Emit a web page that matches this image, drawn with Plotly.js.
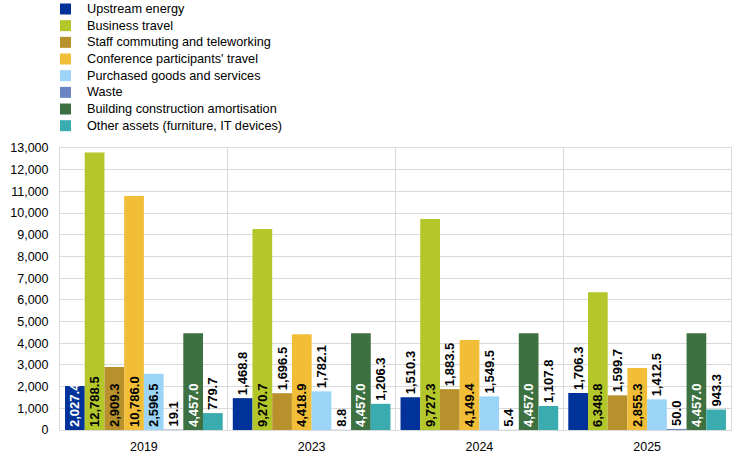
<!DOCTYPE html>
<html>
<head>
<meta charset="utf-8">
<script src="https://cdn.plot.ly/plotly-3.0.1.min.js"></script>
<style>
  html, body { margin: 0; padding: 0; background: #fff; }
  #chart { width: 744px; height: 456px; }
</style>
</head>
<body>
<div id="chart"></div>
<script>
// categories (years) and one array of values per emission source
const years = ["2019", "2023", "2024", "2025"];

const upstreamEnergy    = [2027.4, 1468.8, 1510.3, 1706.3];
const businessTravel    = [12788.5, 9270.7, 9727.3, 6348.8];
const staffCommuting    = [2909.3, 1696.5, 1883.5, 1599.7];
const conferenceTravel  = [10786.0, 4418.9, 4149.4, 2855.3];
const purchasedGoods    = [2596.5, 1782.1, 1549.5, 1412.5];
const waste             = [19.1, 8.8, 5.4, 50.0];
const buildingAmort     = [4457.0, 4457.0, 4457.0, 4457.0];
const otherAssets       = [779.7, 1206.3, 1107.8, 943.3];

const seriesNames = [
    "Upstream energy",
    "Business travel",
    "Staff commuting and teleworking",
    "Conference participants' travel",
    "Purchased goods and services",
    "Waste",
    "Building construction amortisation",
    "Other assets (furniture, IT devices)"
];
const seriesValues = [upstreamEnergy, businessTravel, staffCommuting, conferenceTravel,
                      purchasedGoods, waste, buildingAmort, otherAssets];
const seriesColors = ["#003299", "#b3c62a", "#b8902c", "#f2be37",
                      "#9bd4f6", "#6a84c6", "#3e7142", "#3aacb0"];
const insideTextColors = ["#ffffff", "#000000", "#000000", "#000000",
                          "#000000", "#000000", "#ffffff", "#000000"];

const FONT = "Arial, 'Liberation Sans', sans-serif";

// plot area in pixels (used to place the hand-made legend)
const M = {l: 60, r: 13, t: 148, b: 26};
const plotW = 744 - M.l - M.r;
const plotH = 456 - M.t - M.b;

var data = [];
seriesValues.forEach((vals, i) => {
    data.push({
        type: "bar",
        x: years,
        y: vals,
        name: seriesNames[i],
        marker: {color: seriesColors[i], line: {width: 0}},
        texttemplate: "%{y:,.1f}",
        textposition: vals.map(v => v > 2000 ? "inside" : "outside"),
        textangle: -90,
        insidetextanchor: "start",
        constraintext: "none",
        cliponaxis: false,
        insidetextfont: {family: FONT, size: 13, weight: "bold", color: insideTextColors[i]},
        outsidetextfont: {family: FONT, size: 13, weight: "bold", color: "#000000"},
        hoverinfo: "x+y+name",
        showlegend: false
    });
});

// legend drawn as squares + text above the plot area
var shapes = [];
var annotations = [];
const rowTop = 9, rowStep = 16.67, sq = 11;
seriesNames.forEach((name, i) => {
    const cy = rowTop + i * rowStep;
    const yc = (456 - M.b - cy) / plotH;
    shapes.push({
        type: "rect", xref: "paper", yref: "paper",
        x0: 0, x1: sq / plotW,
        y0: yc - (sq / 2) / plotH, y1: yc + (sq / 2) / plotH,
        fillcolor: seriesColors[i], line: {width: 0}
    });
    annotations.push({
        xref: "paper", yref: "paper",
        x: (85 - M.l) / plotW, y: yc,
        xanchor: "left", yanchor: "middle",
        text: name, showarrow: false,
        font: {family: FONT, size: 12.7, color: "#000000"}
    });
});

const layout = {
    width: 744,
    height: 456,
    margin: M,
    paper_bgcolor: "#ffffff",
    plot_bgcolor: "#ffffff",
    font: {family: FONT, size: 12, color: "#000000"},
    barmode: "group",
    bargap: 0.06,
    bargroupgap: 0,
    showlegend: false,
    xaxis: {
        type: "category",
        tickson: "boundaries",
        showgrid: true,
        gridcolor: "#d9d9d9",
        gridwidth: 1,
        showline: true,
        linecolor: "#d9d9d9",
        linewidth: 1,
        mirror: true,
        ticks: "",
        ticklabelstandoff: 5,
        tickfont: {family: FONT, size: 12.5, color: "#000000"}
    },
    yaxis: {
        range: [0, 13000],
        dtick: 1000,
        tickformat: ",d",
        showgrid: true,
        gridcolor: "#d9d9d9",
        gridwidth: 1,
        zeroline: false,
        showline: true,
        linecolor: "#d9d9d9",
        linewidth: 1,
        mirror: true,
        ticks: "",
        ticklabelstandoff: 8,
        tickfont: {family: FONT, size: 12.5, color: "#000000"}
    },
    shapes: shapes,
    annotations: annotations
};

Plotly.newPlot("chart", data, layout, {displayModeBar: false, staticPlot: true});
</script>
</body>
</html>
